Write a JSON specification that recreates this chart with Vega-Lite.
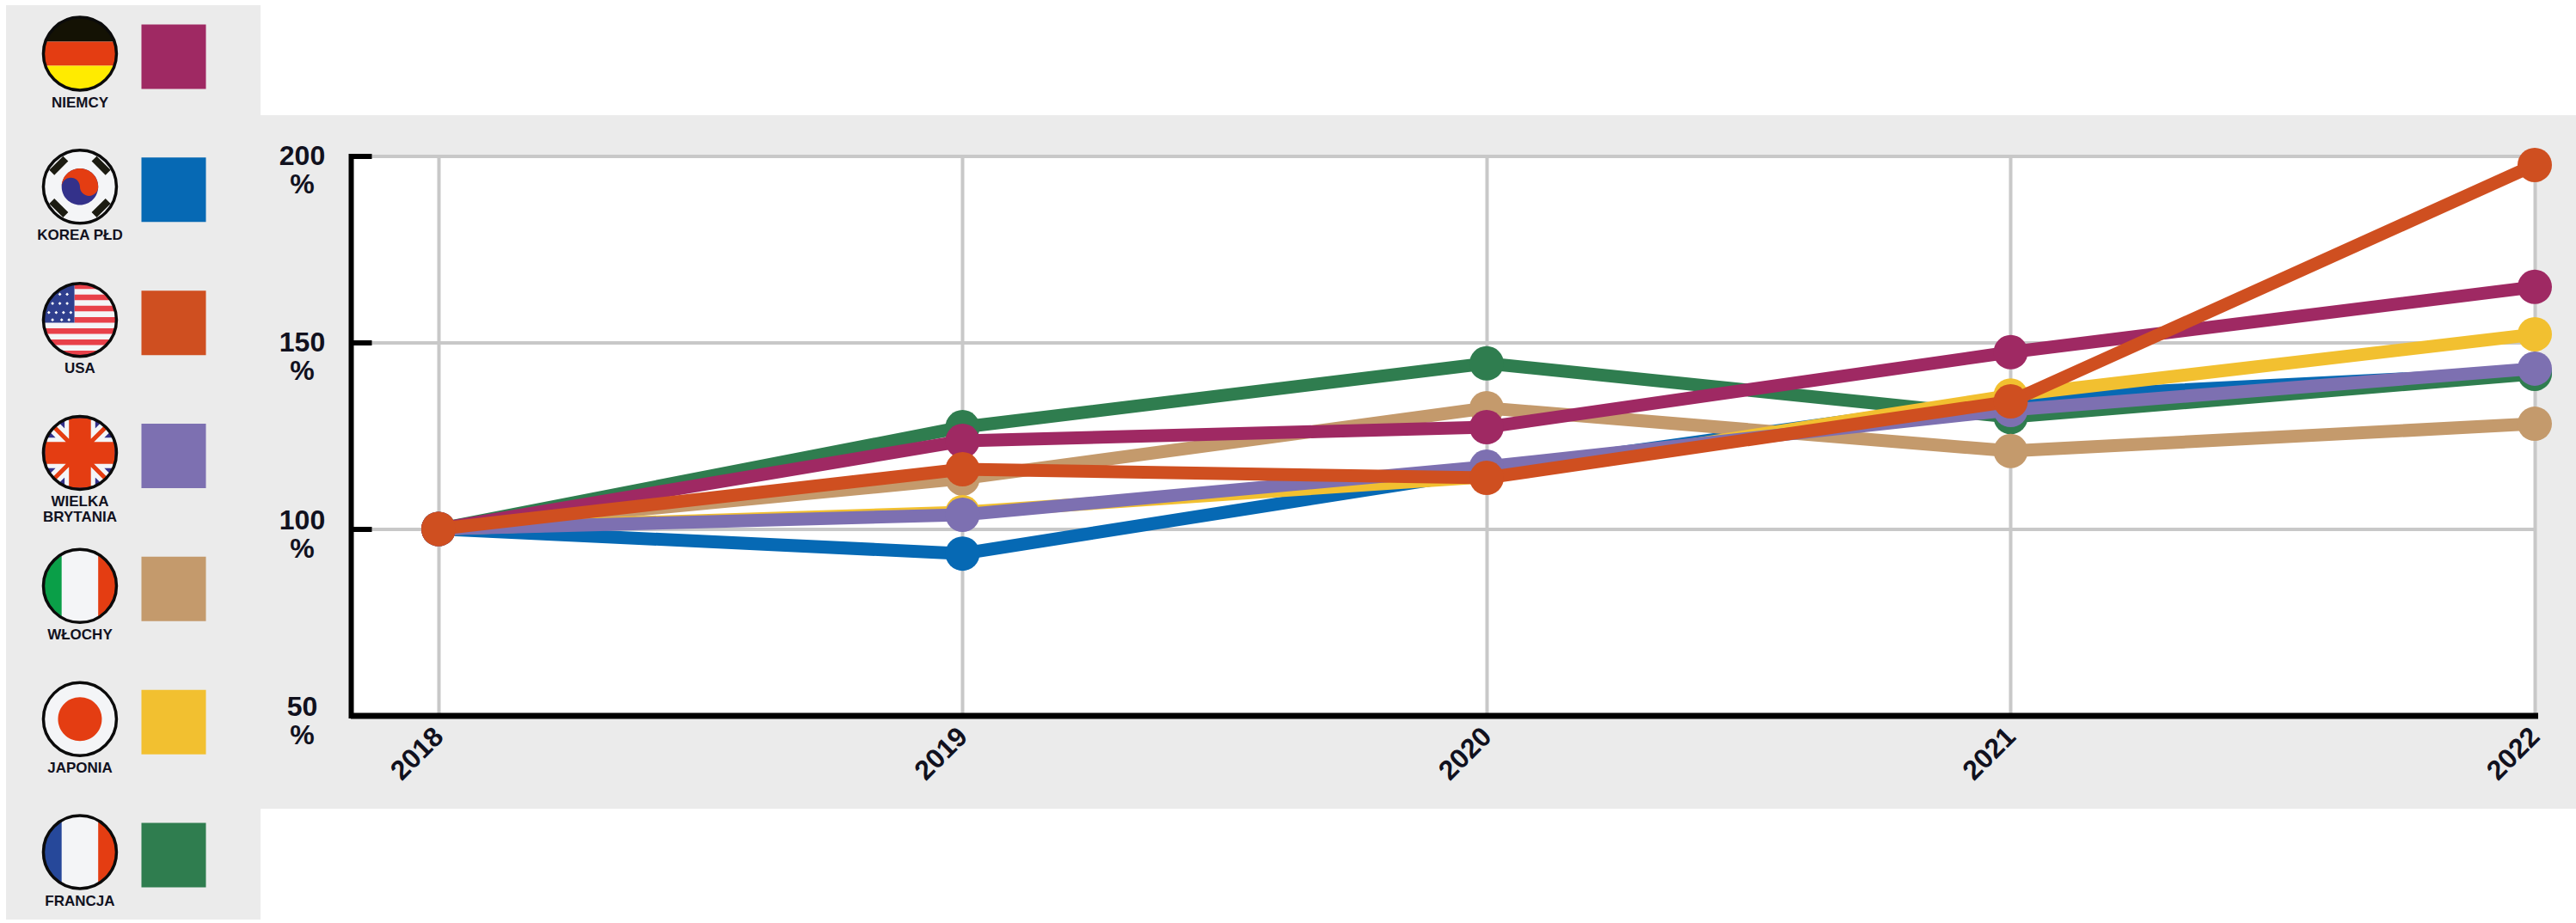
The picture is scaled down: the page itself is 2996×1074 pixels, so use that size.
{
"$schema":"https://vega.github.io/schema/vega-lite/v6.json",
"autosize":{"type":"none"},
"width":2537,"height":651,
"padding":{"left":411,"top":181.5,"right":48,"bottom":241.5},
"background":"#ebebeb",
"config":{"view":{"fill":"white","stroke":null},"axis":{"title":null}},
"datasets":{
"series":[
{"year":2018,"country":"NIEMCY","value":100},{"year":2019,"country":"NIEMCY","value":123.6},{"year":2020,"country":"NIEMCY","value":127.3},{"year":2021,"country":"NIEMCY","value":147.4},{"year":2022,"country":"NIEMCY","value":164.9},
{"year":2018,"country":"KOREA PŁD","value":100},{"year":2019,"country":"KOREA PŁD","value":93.4},{"year":2020,"country":"KOREA PŁD","value":115.5},{"year":2021,"country":"KOREA PŁD","value":135},{"year":2022,"country":"KOREA PŁD","value":142},
{"year":2018,"country":"USA","value":100},{"year":2019,"country":"USA","value":116},{"year":2020,"country":"USA","value":113.7},{"year":2021,"country":"USA","value":134.2},{"year":2022,"country":"USA","value":197.6},
{"year":2018,"country":"WIELKA BRYTANIA","value":100},{"year":2019,"country":"WIELKA BRYTANIA","value":103.8},{"year":2020,"country":"WIELKA BRYTANIA","value":116.7},{"year":2021,"country":"WIELKA BRYTANIA","value":131.9},{"year":2022,"country":"WIELKA BRYTANIA","value":143},
{"year":2018,"country":"WŁOCHY","value":100},{"year":2019,"country":"WŁOCHY","value":113.5},{"year":2020,"country":"WŁOCHY","value":132.4},{"year":2021,"country":"WŁOCHY","value":120.9},{"year":2022,"country":"WŁOCHY","value":128.2},
{"year":2018,"country":"JAPONIA","value":100},{"year":2019,"country":"JAPONIA","value":104.5},{"year":2020,"country":"JAPONIA","value":114},{"year":2021,"country":"JAPONIA","value":135.8},{"year":2022,"country":"JAPONIA","value":152.2},
{"year":2018,"country":"FRANCJA","value":100},{"year":2019,"country":"FRANCJA","value":127.3},{"year":2020,"country":"FRANCJA","value":144.4},{"year":2021,"country":"FRANCJA","value":130},{"year":2022,"country":"FRANCJA","value":141.6}
],
"legend":[
{"country":"NIEMCY","label":"NIEMCY"},{"country":"KOREA PŁD","label":"KOREA PŁD"},{"country":"USA","label":"USA"},{"country":"WIELKA BRYTANIA","label":"WIELKA\nBRYTANIA"},{"country":"WŁOCHY","label":"WŁOCHY"},{"country":"JAPONIA","label":"JAPONIA"},{"country":"FRANCJA","label":"FRANCJA"}
],
"flags":[
{"country":"NIEMCY","part":"disc"},{"country":"NIEMCY","part":"de1"},{"country":"NIEMCY","part":"de2"},{"country":"NIEMCY","part":"de3"},
{"country":"KOREA PŁD","part":"disc"},{"country":"KOREA PŁD","part":"krblue"},{"country":"KOREA PŁD","part":"krred"},{"country":"KOREA PŁD","part":"krbars"},
{"country":"USA","part":"disc"},{"country":"USA","part":"usred"},{"country":"USA","part":"usblue"},{"country":"USA","part":"usstars"},
{"country":"WIELKA BRYTANIA","part":"gbblue"},{"country":"WIELKA BRYTANIA","part":"gbwhite"},{"country":"WIELKA BRYTANIA","part":"gbred"},
{"country":"WŁOCHY","part":"disc"},{"country":"WŁOCHY","part":"itgreen"},{"country":"WŁOCHY","part":"itred"},
{"country":"JAPONIA","part":"disc"},{"country":"JAPONIA","part":"jpred"},
{"country":"FRANCJA","part":"disc"},{"country":"FRANCJA","part":"frblue"},{"country":"FRANCJA","part":"frred"}
]
},
"resolve":{"scale":{"y":"independent"}},
"layer":[
{"layer":[
{"data":{"values":[{}]},"mark":{"type":"rect","color":"#ffffff"},"encoding":{"x":{"datum":2017.6604,"type":"quantitative","title":null},"x2":{"datum":2022.0788},"y":{"datum":241.82,"type":"quantitative","title":null},"y2":{"datum":210.95}}},
{"data":{"values":[{}]},"mark":{"type":"rect","color":"#ffffff"},"encoding":{"x":{"datum":2017.6604,"type":"quantitative","title":null},"x2":{"datum":2022.0788},"y":{"datum":25,"type":"quantitative","title":null},"y2":{"datum":-5.65}}},
{"data":{"values":[{}]},"mark":{"type":"rect","color":"#ffffff"},"encoding":{"x":{"datum":2017.1633,"type":"quantitative","title":null},"x2":{"datum":2017.1747},"y":{"datum":241.82,"type":"quantitative","title":null},"y2":{"datum":-5.65}}},
{"data":{"values":[{}]},"mark":{"type":"rect","color":"#ffffff"},"encoding":{"x":{"datum":2017.1747,"type":"quantitative","title":null},"x2":{"datum":2017.6604},"y":{"datum":241.82,"type":"quantitative","title":null},"y2":{"datum":240.44}}},
{"data":{"values":[{}]},"mark":{"type":"rect","color":"#ffffff"},"encoding":{"x":{"datum":2017.1747,"type":"quantitative","title":null},"x2":{"datum":2017.6604},"y":{"datum":-4.72,"type":"quantitative","title":null},"y2":{"datum":-5.65}}},
{"data":{"name":"series"},"transform":[{"filter":"datum.country==='KOREA PŁD'"}],
"encoding":{
"x":{"field":"year","type":"quantitative","title":null,"scale":{"domain":[2017.8376,2022],"nice":false,"zero":false},
"axis":{"values":[2018,2019,2020,2021,2022],"format":"d","grid":true,"gridColor":"#c8c8c8","gridWidth":4,"domainColor":"#000000","domainWidth":7,"domainCap":"square","ticks":false,"labelAngle":-45,"labelAlign":"right","labelBaseline":"middle","labelFont":"Liberation Sans","labelFontWeight":"bold","labelFontSize":32,"labelColor":"#11111e","labelPadding":19,"labelOverlap":false,"labelFlush":false}},
"y":{"field":"value","type":"quantitative","title":null,"scale":{"domain":[50,200],"nice":false,"zero":false},
"axis":{"values":[50,100,150,200],"grid":true,"gridColor":"#c8c8c8","gridWidth":4,"offset":3,"domainColor":"#000000","domainWidth":6,"domainCap":"square","ticks":true,"tickColor":"#000000","tickWidth":6,"tickSize":-24,"labelAlign":"center","labelBaseline":{"condition":{"test":"datum.value<=100","value":"alphabetic"},"value":"middle"},"labelFont":"Liberation Sans","labelFontWeight":"bold","labelFontSize":32,"labelColor":"#11111e","labelPadding":81,"labelLineHeight":33,"labelExpr":"[datum.label,'%']","labelOverlap":false,"labelFlush":false}},
"color":{"field":"country","type":"nominal","legend":null,"scale":{"domain":["NIEMCY","KOREA PŁD","USA","WIELKA BRYTANIA","WŁOCHY","JAPONIA","FRANCJA"],"range":["#9f2963","#0669b4","#cf4f20","#7d70b1","#c49a6c","#f2c030","#2f7d4f"]}}
},
"layer":[{"mark":{"type":"line","strokeWidth":15}},{"mark":{"type":"point","shape":"circle","filled":true,"size":1600,"opacity":1}}]},
{"data":{"name":"series"},"transform":[{"filter":"datum.country==='FRANCJA'"}],"encoding":{"x":{"field":"year","type":"quantitative","title":null},"y":{"field":"value","type":"quantitative","title":null},"color":{"field":"country","type":"nominal","legend":null}},"layer":[{"mark":{"type":"line","strokeWidth":15}},{"mark":{"type":"point","shape":"circle","filled":true,"size":1600,"opacity":1}}]},
{"data":{"name":"series"},"transform":[{"filter":"datum.country==='WŁOCHY'"}],"encoding":{"x":{"field":"year","type":"quantitative","title":null},"y":{"field":"value","type":"quantitative","title":null},"color":{"field":"country","type":"nominal","legend":null}},"layer":[{"mark":{"type":"line","strokeWidth":15}},{"mark":{"type":"point","shape":"circle","filled":true,"size":1600,"opacity":1}}]},
{"data":{"name":"series"},"transform":[{"filter":"datum.country==='JAPONIA'"}],"encoding":{"x":{"field":"year","type":"quantitative","title":null},"y":{"field":"value","type":"quantitative","title":null},"color":{"field":"country","type":"nominal","legend":null}},"layer":[{"mark":{"type":"line","strokeWidth":15}},{"mark":{"type":"point","shape":"circle","filled":true,"size":1600,"opacity":1}}]},
{"data":{"name":"series"},"transform":[{"filter":"datum.country==='WIELKA BRYTANIA'"}],"encoding":{"x":{"field":"year","type":"quantitative","title":null},"y":{"field":"value","type":"quantitative","title":null},"color":{"field":"country","type":"nominal","legend":null}},"layer":[{"mark":{"type":"line","strokeWidth":15}},{"mark":{"type":"point","shape":"circle","filled":true,"size":1600,"opacity":1}}]},
{"data":{"name":"series"},"transform":[{"filter":"datum.country==='NIEMCY'"}],"encoding":{"x":{"field":"year","type":"quantitative","title":null},"y":{"field":"value","type":"quantitative","title":null},"color":{"field":"country","type":"nominal","legend":null}},"layer":[{"mark":{"type":"line","strokeWidth":15}},{"mark":{"type":"point","shape":"circle","filled":true,"size":1600,"opacity":1}}]},
{"data":{"name":"series"},"transform":[{"filter":"datum.country==='USA'"}],"encoding":{"x":{"field":"year","type":"quantitative","title":null},"y":{"field":"value","type":"quantitative","title":null},"color":{"field":"country","type":"nominal","legend":null}},"layer":[{"mark":{"type":"line","strokeWidth":15}},{"mark":{"type":"point","shape":"circle","filled":true,"size":1600,"opacity":1}}]}
]},
{"layer":[
{"data":{"name":"legend"},"mark":{"type":"point","shape":"square","filled":true,"size":5625,"opacity":1,"yOffset":3.5},
"encoding":{"x":{"datum":2017.4947,"type":"quantitative","title":null},
"y":{"field":"country","type":"nominal","axis":null,"title":null,"scale":{"type":"point","domain":["NIEMCY","KOREA PŁD","USA","WIELKA BRYTANIA","WŁOCHY","JAPONIA","FRANCJA"],"range":[-119,810],"padding":0}},
"color":{"field":"country","type":"nominal","legend":null}}},
{"data":{"name":"flags"},"mark":{"type":"point","filled":true,"size":7225,"opacity":1,"strokeWidth":0},
"encoding":{"x":{"datum":2017.3158,"type":"quantitative","title":null},
"y":{"field":"country","type":"nominal","axis":null},
"fill":{"field":"part","type":"nominal","legend":null,"scale":{
"domain":["disc","de1","de2","de3","krblue","krred","krbars","usred","usblue","usstars","gbblue","gbwhite","gbred","itgreen","itred","jpred","frblue","frred"],
"range":["#f4f5f7","#141204","#e43d12","#ffeb00","#33318a","#e43d12","#1c1c12","#e8414a","#2f3f8e","#ffffff","#33318a","#f4f5f7","#e43d12","#0a9f48","#e43d12","#e43d12","#26489a","#e43d12"]}},
"shape":{"field":"part","type":"nominal","legend":null,"scale":{
"domain":["disc","de1","de2","de3","krblue","krred","krbars","usred","usblue","usstars","gbblue","gbwhite","gbred","itgreen","itred","jpred","frblue","frred"],
"range":[
"M-1,0A1,1 0 1,1 1,0A1,1 0 1,1 -1,0Z",
"M-0.944,-0.33A1,1 0 0,1 0.944,-0.33Z",
"M-0.944,-0.33L0.944,-0.33A1,1 0 0,1 0.944,0.33L-0.944,0.33A1,1 0 0,1 -0.944,-0.33Z",
"M0.944,0.33A1,1 0 0,1 -0.944,0.33Z",
"M-0.5,0A0.5,0.5 0 1,1 0.5,0A0.5,0.5 0 1,1 -0.5,0Z",
"M-0.5,0A0.5,0.5 0 0,1 0.5,0A0.25,0.25 0 0,1 0,0A0.25,0.25 0 0,0 -0.5,0Z",
"M-0.32,-0.7L-0.46,-0.84L-0.84,-0.46L-0.7,-0.32ZM0.32,-0.7L0.46,-0.84L0.84,-0.46L0.7,-0.32ZM-0.32,0.7L-0.46,0.84L-0.84,0.46L-0.7,0.32ZM0.32,0.7L0.46,0.84L0.84,0.46L0.7,0.32Z",
"M-0.15,-0.846L-0.15,-0.989A1,1 0 0,1 0.533,-0.846ZM-0.15,-0.692L0.722,-0.692L0.843,-0.538L-0.15,-0.538ZM-0.15,-0.385L0.923,-0.385L0.973,-0.231L-0.15,-0.231ZM-0.15,-0.077L0.997,-0.077L0.997,0.077L-0.15,0.077ZM-0.973,0.231L0.973,0.231L0.923,0.385L-0.923,0.385ZM-0.843,0.538L0.843,0.538L0.722,0.692L-0.722,0.692ZM-0.533,0.846L0.533,0.846A1,1 0 0,1 -0.533,0.846Z",
"M-0.15,-0.989A1,1 0 0,0 -0.997,0.08L-0.15,0.08Z",
"M-0.55,-0.745L-0.505,-0.7L-0.55,-0.655L-0.595,-0.7ZM-0.35,-0.745L-0.305,-0.7L-0.35,-0.655L-0.395,-0.7ZM-0.75,-0.495L-0.705,-0.45L-0.75,-0.405L-0.795,-0.45ZM-0.55,-0.495L-0.505,-0.45L-0.55,-0.405L-0.595,-0.45ZM-0.35,-0.495L-0.305,-0.45L-0.35,-0.405L-0.395,-0.45ZM-0.85,-0.245L-0.805,-0.2L-0.85,-0.155L-0.895,-0.2ZM-0.65,-0.245L-0.605,-0.2L-0.65,-0.155L-0.695,-0.2ZM-0.45,-0.245L-0.405,-0.2L-0.45,-0.155L-0.495,-0.2ZM-0.25,-0.245L-0.205,-0.2L-0.25,-0.155L-0.295,-0.2ZM-0.75,-0.045L-0.705,0L-0.75,0.045L-0.795,0ZM-0.5,-0.045L-0.455,0L-0.5,0.045L-0.545,0ZM-0.3,-0.045L-0.255,0L-0.3,0.045L-0.345,0Z",
"M-1,0A1,1 0 1,1 1,0A1,1 0 1,1 -1,0Z",
"M-0.571,-0.821L0.821,0.571L0.571,0.821L-0.821,-0.571ZM0.821,-0.571L-0.571,0.821L-0.821,0.571L0.571,-0.821ZM-0.42,-0.908L0.42,-0.908L0.42,0.908L-0.42,0.908ZM-0.908,-0.42L0.908,-0.42L0.908,0.42L-0.908,0.42Z",
"M-0.3,-0.954L0.3,-0.954L0.3,0.954L-0.3,0.954ZM-0.954,-0.3L0.954,-0.3L0.954,0.3L-0.954,0.3ZM-0.665,-0.749L0.749,0.665L0.665,0.749L-0.749,-0.665ZM0.749,-0.665L-0.665,0.749L-0.749,0.665L0.665,-0.749Z",
"M-0.5,0.866A1,1 0 0,1 -0.5,-0.866Z",
"M0.5,-0.866A1,1 0 0,1 0.5,0.866Z",
"M-0.6,0A0.6,0.6 0 1,1 0.6,0A0.6,0.6 0 1,1 -0.6,0Z",
"M-0.5,0.866A1,1 0 0,1 -0.5,-0.866Z",
"M0.5,-0.866A1,1 0 0,1 0.5,0.866Z"
]}}}},
{"data":{"name":"legend"},"mark":{"type":"point","shape":"circle","filled":false,"size":7225,"opacity":1,"stroke":"#0b0b0b","strokeWidth":3.5},
"encoding":{"x":{"datum":2017.3158,"type":"quantitative","title":null},"y":{"field":"country","type":"nominal","axis":null}}},
{"data":{"name":"legend"},"mark":{"type":"text","font":"Liberation Sans","fontWeight":"bold","fontSize":17,"color":"#11111e","baseline":"top","align":"center","lineBreak":"\n","lineHeight":18,"yOffset":49},
"encoding":{"x":{"datum":2017.3158,"type":"quantitative","title":null},"y":{"field":"country","type":"nominal","axis":null},"text":{"field":"label"}}}
]}
]
}
